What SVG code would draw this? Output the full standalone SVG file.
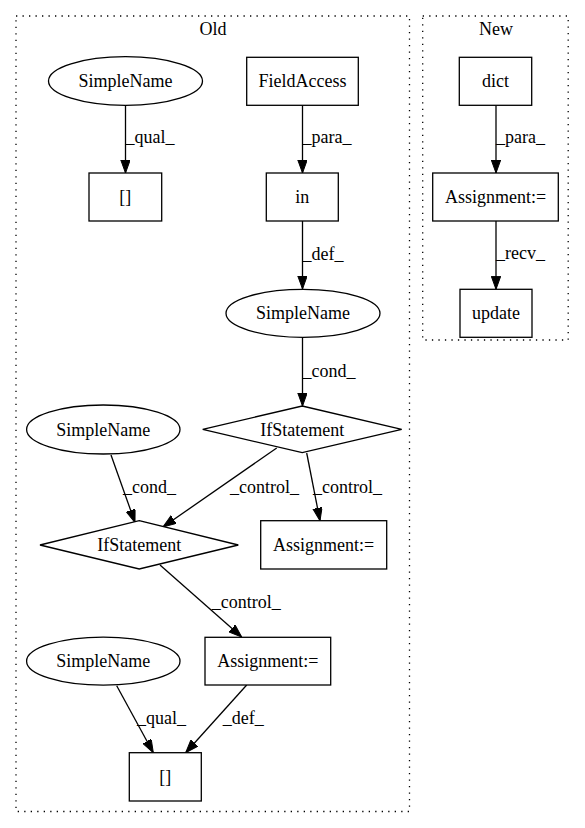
<svg xmlns="http://www.w3.org/2000/svg" width="585" height="828" viewBox="0 0 585 828">
<style>
text{font-family:"Liberation Serif","Times New Roman",serif;font-size:18px;fill:#000}
.n{text-anchor:middle}
.shape{fill:#fff;stroke:#000;stroke-width:1.3}
.cl{fill:none;stroke:#000;stroke-width:1.3;stroke-dasharray:1.3,5.2}
.e{fill:none;stroke:#000;stroke-width:1.3;marker-end:url(#ah)}
</style>
<defs>
<marker id="ah" markerUnits="userSpaceOnUse" markerWidth="14" markerHeight="10" refX="13" refY="4.7" orient="auto">
<path d="M0,0 L13,4.7 L0,9.4 Z" fill="#000" stroke="#000" stroke-width="1"/>
</marker>
</defs>
<rect width="585" height="828" fill="#fff"/>
<g id="cluster_old">
<rect class="cl" x="16" y="16" width="393.5" height="795.5"/>
<text class="n" x="213" y="35">Old</text>
</g>
<g id="cluster_new">
<rect class="cl" x="422.7" y="16" width="145.5" height="324"/>
<text class="n" x="496" y="35">New</text>
</g>
<g id="edges">
<path class="e" d="M125.5,105.5 L125.5,173"/>
<text x="125.5" y="143">_qual_</text>
<path class="e" d="M302.5,105.3 L302.5,173"/>
<text x="302.5" y="143">_para_</text>
<path class="e" d="M302.5,221 L302.5,289"/>
<text x="302.5" y="260">_def_</text>
<path class="e" d="M302.5,337.5 L302.5,406"/>
<text x="302.5" y="377">_cond_</text>
<path class="e" d="M111,455 L135,522.5"/>
<text x="123" y="493">_cond_</text>
<path class="e" d="M276.7,448 L163,527"/>
<text x="230" y="493">_control_</text>
<path class="e" d="M306.7,453 L320,520.7"/>
<text x="313" y="493">_control_</text>
<path class="e" d="M160,565 L241.7,637"/>
<text x="211.7" y="608">_control_</text>
<path class="e" d="M116.7,685.7 L153.3,752.7"/>
<text x="137" y="724">_qual_</text>
<path class="e" d="M246.7,685 L185.7,752.7"/>
<text x="222.7" y="724">_def_</text>
<path class="e" d="M496,105.3 L496,173"/>
<text x="496" y="143">_para_</text>
<path class="e" d="M496,221 L496,289.3"/>
<text x="496" y="259">_recv_</text>
</g>
<g id="simplename1">
<ellipse class="shape" cx="125.5" cy="81" rx="77" ry="24.3"/>
<text class="n" x="125.5" y="87">SimpleName</text>
</g>
<g id="fieldaccess">
<rect class="shape" x="246.7" y="57.3" width="111.6" height="48"/>
<text class="n" x="302.5" y="87">FieldAccess</text>
</g>
<g id="index1">
<rect class="shape" x="89" y="173" width="72.7" height="48"/>
<text class="n" x="125.3" y="203">[]</text>
</g>
<g id="in">
<rect class="shape" x="266.3" y="173" width="72" height="48"/>
<text class="n" x="302.3" y="203">in</text>
</g>
<g id="simplename2">
<ellipse class="shape" cx="303" cy="313.3" rx="77" ry="24"/>
<text class="n" x="303" y="319">SimpleName</text>
</g>
<g id="ifstatement1">
<polygon class="shape" points="302.2,406 401.7,429.3 302.2,452.7 202.7,429.3"/>
<text class="n" x="302.2" y="435.5">IfStatement</text>
</g>
<g id="simplename3">
<ellipse class="shape" cx="103.3" cy="429.5" rx="76.7" ry="24.5"/>
<text class="n" x="103.3" y="435.5">SimpleName</text>
</g>
<g id="ifstatement2">
<polygon class="shape" points="139.2,520.7 238.3,545 139.2,569 40,545"/>
<text class="n" x="139.2" y="551">IfStatement</text>
</g>
<g id="assignment1">
<rect class="shape" x="260.7" y="520.7" width="126" height="48.3"/>
<text class="n" x="323.7" y="551">Assignment:=</text>
</g>
<g id="assignment2">
<rect class="shape" x="205" y="637.3" width="125.7" height="47.7"/>
<text class="n" x="267.8" y="667">Assignment:=</text>
</g>
<g id="simplename4">
<ellipse class="shape" cx="103.3" cy="661.2" rx="76.7" ry="24"/>
<text class="n" x="103.3" y="667">SimpleName</text>
</g>
<g id="index2">
<rect class="shape" x="129.3" y="752.7" width="72" height="48.3"/>
<text class="n" x="165.3" y="783">[]</text>
</g>
<g id="dict">
<rect class="shape" x="459.3" y="57.3" width="72.4" height="48"/>
<text class="n" x="495.5" y="87">dict</text>
</g>
<g id="assignment_new">
<rect class="shape" x="432.7" y="173" width="125.6" height="48"/>
<text class="n" x="495.5" y="203">Assignment:=</text>
</g>
<g id="update">
<rect class="shape" x="460" y="289.3" width="72" height="48"/>
<text class="n" x="496" y="319">update</text>
</g>
</svg>
